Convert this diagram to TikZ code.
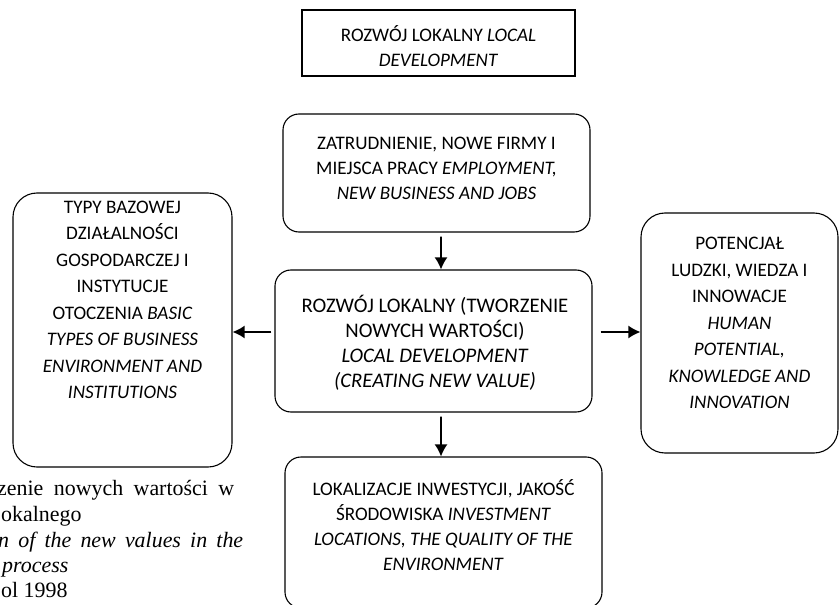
\documentclass[tikz,border=0pt]{standalone}
\usepackage{fontspec}
\setmainfont{Carlito}
\newfontfamily\capfont{Liberation Serif}
\usetikzlibrary{arrows.meta}

\begin{document}
\begin{tikzpicture}[x=1bp,y=-1bp,
  box/.style={draw,line width=1.1bp,inner sep=0pt},
  rbox/.style={box,rounded corners=16bp},
  sbox/.style={box,rounded corners=24bp},
  txt/.style={align=center,inner sep=0pt,font=\fontsize{19.2}{25}\selectfont},
  stxt/.style={txt,font=\fontsize{19.2}{26.6}\selectfont},
  ctxt/.style={txt,font=\fontsize{20.8}{25}\selectfont},
  captxt/.style={inner sep=0pt,anchor=base west,font=\capfont\fontsize{22}{25}\selectfont},
  arr/.style={line width=1.6bp,->,>={Latex[length=12bp,width=13bp]}}]
\useasboundingbox (0,0) rectangle (840,605);
\clip (0,0) rectangle (840,605);
\node[box,minimum width=273bp,minimum height=66bp] (top) at (438.5,43) {};
\node[txt] (toptxt) at (438.5,46) {ROZWÓJ LOKALNY \textit{LOCAL}\\\textit{DEVELOPMENT}};
\node[rbox,minimum width=307bp,minimum height=118bp] (zatr) at (436.5,173) {};
\node[txt] (zatrtxt) at (436.5,168) {ZATRUDNIENIE, NOWE FIRMY I\\MIEJSCA PRACY \textit{EMPLOYMENT,}\\\textit{NEW BUSINESS AND JOBS}};
\node[sbox,minimum width=219bp,minimum height=274bp] (typy) at (122.5,330) {};
\node[stxt] (typytxt) at (122.5,300) {TYPY BAZOWEJ\\DZIAŁALNOŚCI\\GOSPODARCZEJ I\\INSTYTUCJE\\OTOCZENIA \textit{BASIC}\\\textit{TYPES OF BUSINESS}\\\textit{ENVIRONMENT AND}\\\textit{INSTITUTIONS}};
\node[sbox,minimum width=197bp,minimum height=240bp] (pot) at (739.5,333) {};
\node[stxt] (pottxt) at (739.5,323) {POTENCJAŁ\\LUDZKI, WIEDZA I\\INNOWACJE\\\textit{HUMAN}\\\textit{POTENTIAL,}\\\textit{KNOWLEDGE AND}\\\textit{INNOVATION}};
\node[rbox,minimum width=317bp,minimum height=142bp] (cen) at (433.5,341) {};
\node[ctxt] (centxt) at (435,342.5) {ROZWÓJ LOKALNY (TWORZENIE\\NOWYCH WARTOŚCI)\\\textit{LOCAL DEVELOPMENT}\\\textit{(CREATING NEW VALUE)}};
\node[rbox,minimum width=317bp,minimum height=151bp] (lok) at (443.5,532.5) {};
\node[txt] (loktxt) at (443.5,525) {LOKALIZACJE INWESTYCJI, JAKOŚĆ\\ŚRODOWISKA \textit{INVESTMENT}\\\textit{LOCATIONS, THE QUALITY OF THE}\\\textit{ENVIRONMENT}};
\draw[arr] ([shift={(4.5,4)}]zatr.south) -- ([xshift=7.5bp]cen.north);
\draw[arr] ([shift={(7.5,4)}]cen.south) -- ([xshift=-2.5bp]lok.north);
\draw[arr] ([shift={(-3,-9)}]cen.west) -- ([shift={(0,2)}]typy.east);
\draw[arr] ([shift={(8,-9)}]cen.east) -- ([shift={(0,-1)}]pot.west);
\node[captxt] (cap1) at (-3,495) {\makebox[237bp][s]{zenie nowych wartości w}};
\node[captxt] (cap2) at (1,521) {okalnego};
\node[captxt] (cap3) at (-2,547) {\itshape\makebox[245bp][s]{n of the new values in the}};
\node[captxt] (cap4) at (2,572) {\itshape process};
\node[captxt] (cap5) at (1,597) {ol 1998};
\end{tikzpicture}
\end{document}
